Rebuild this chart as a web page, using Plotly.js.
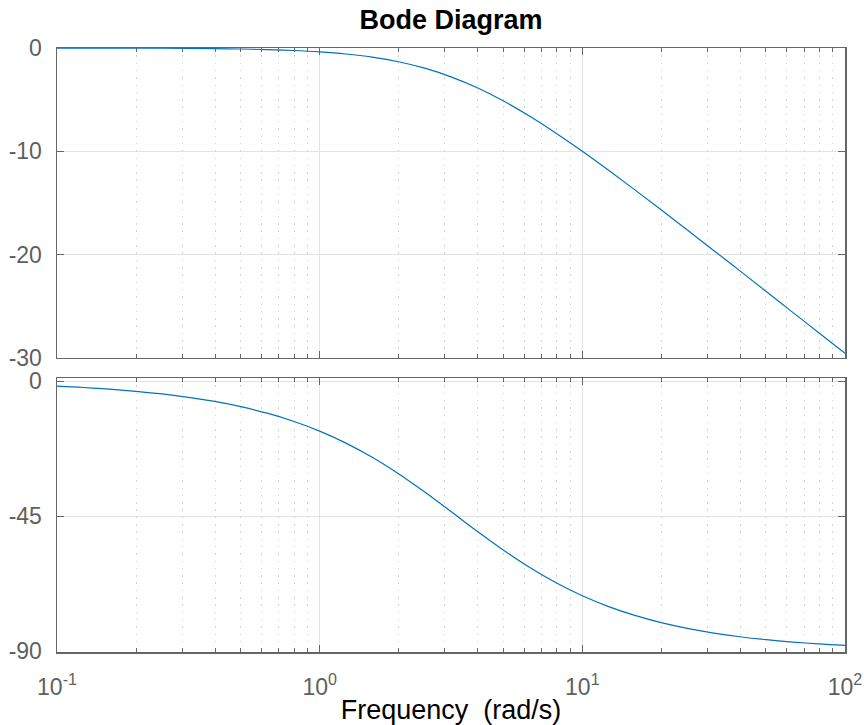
<!DOCTYPE html>
<html><head><meta charset="utf-8">
<script src="https://cdn.plot.ly/plotly-3.0.1.min.js"></script>
<style>html,body{margin:0;padding:0;background:#fff;}#chart{width:864px;height:725px;}</style>
</head><body><div id="chart"></div>
<script>
// Frequencies (rad/s)
var freq = [0.1, 0.1259, 0.1585, 0.1995, 0.2512, 0.3162, 0.3981, 0.5012, 0.6310, 0.7943,
            1.0, 1.259, 1.585, 1.995, 2.512, 3.162, 3.981, 5.012, 6.310, 7.943,
            10.0, 12.59, 15.85, 19.95, 25.12, 31.62, 39.81, 50.12, 63.10, 79.43, 100.0];
// Magnitude (dB)
var magDB = [-0.004, -0.006, -0.010, -0.016, -0.025, -0.039, -0.062, -0.097, -0.153, -0.240,
             -0.374, -0.579, -0.885, -1.33, -1.95, -2.79, -3.85, -5.13, -6.61, -8.25,
             -10.0, -11.84, -13.73, -15.66, -17.62, -19.59, -21.57, -23.56, -25.56, -27.55, -29.55];
// Phase (deg)
var phaseDeg = [-1.72, -2.16, -2.72, -3.43, -4.31, -5.42, -6.81, -8.55, -10.72, -13.40,
                -16.70, -20.69, -25.43, -30.90, -37.00, -43.49, -50.06, -56.37, -62.15, -67.24,
                -71.57, -75.17, -78.12, -80.52, -82.44, -83.98, -85.21, -86.20, -86.98, -87.60, -88.09];
var xTickVals = [0.1, 1, 10, 100];
var xTickText = ['10<sup>-1</sup>', '10<sup>0</sup>', '10<sup>1</sup>', '10<sup>2</sup>'];
var xMinorVals = [0.2, 0.3, 0.4, 0.5, 0.6, 0.7, 0.8, 0.9,
                  2, 3, 4, 5, 6, 7, 8, 9,
                  20, 30, 40, 50, 60, 70, 80, 90];
var magTicks = [0, -10, -20, -30];
var magTickText = ['0', '-10', '-20', '-30'];
var phaseTicks = [0, -45, -90];
var phaseTickText = ['0', '-45', '-90'];

var lineColor = '#0072BD';
var axisColor = '#666666';
var gridColor = '#e3e3e3';
var fam = 'Liberation Sans, Arial, Helvetica, sans-serif';
var tickFont = {family: fam, size: 23, color: '#5f5f5f'};

var traces = [
  {x: freq, y: magDB, xaxis: 'x2', yaxis: 'y2', type: 'scatter', mode: 'lines',
   line: {color: lineColor, width: 1.2, shape: 'spline'}, hoverinfo: 'skip'},
  {x: freq, y: phaseDeg, xaxis: 'x', yaxis: 'y', type: 'scatter', mode: 'lines',
   line: {color: lineColor, width: 1.2, shape: 'spline'}, hoverinfo: 'skip'}
];

function xax(extra) {
  var o = {
    type: 'log', range: [-1, 2], tickmode: 'array', tickvals: xTickVals, ticktext: xTickText,
    ticks: 'inside', ticklen: 7, tickcolor: axisColor, tickwidth: 1,
    showline: true, linecolor: axisColor, linewidth: 1.5, mirror: 'allticks',
    showgrid: true, gridcolor: gridColor, gridwidth: 1, zeroline: false,
    tickfont: tickFont, ticklabelstandoff: 14,
    minor: {tickmode: 'array', tickvals: xMinorVals, ticks: 'inside', ticklen: 4,
            tickcolor: axisColor, showgrid: true, gridcolor: '#d2d2d2',
            griddash: '1.5px,5.8px', gridwidth: 1}
  };
  for (var k in extra) o[k] = extra[k];
  return o;
}
function yax(extra) {
  var o = {
    tickmode: 'array',
    ticks: 'inside', ticklen: 7, tickcolor: axisColor, tickwidth: 1,
    showline: true, linecolor: axisColor, linewidth: 1.5, mirror: 'allticks',
    showgrid: true, gridcolor: gridColor, gridwidth: 1, zeroline: false,
    tickfont: tickFont, ticklabelstandoff: 9
  };
  for (var k in extra) o[k] = extra[k];
  return o;
}

var layout = {
  width: 864, height: 725,
  margin: {l: 57, r: 19, t: 48, b: 73},
  paper_bgcolor: '#ffffff', plot_bgcolor: '#ffffff',
  showlegend: false,
  title: {text: '<b>Bode Diagram</b>', xref: 'paper', x: 0.5, xanchor: 'center',
          y: 0.986, yanchor: 'top',
          font: {family: fam, size: 27, color: '#000000'}},
  xaxis: xax({anchor: 'y', domain: [0, 1],
              title: {text: 'Frequency  (rad/s)', standoff: 2,
                      font: {family: fam, size: 27, color: '#000000'}}}),
  xaxis2: xax({anchor: 'y2', domain: [0, 1], matches: 'x', showticklabels: false}),
  yaxis: yax({anchor: 'x', domain: [0, 0.4536], range: [-90.3, 1.0],
              tickvals: phaseTicks, ticktext: phaseTickText}),
  yaxis2: yax({anchor: 'x2', domain: [0.4868, 1], range: [-30, 0],
               tickvals: magTicks, ticktext: magTickText})
};

Plotly.newPlot('chart', traces, layout, {staticPlot: true, displayModeBar: false});
</script></body></html>
